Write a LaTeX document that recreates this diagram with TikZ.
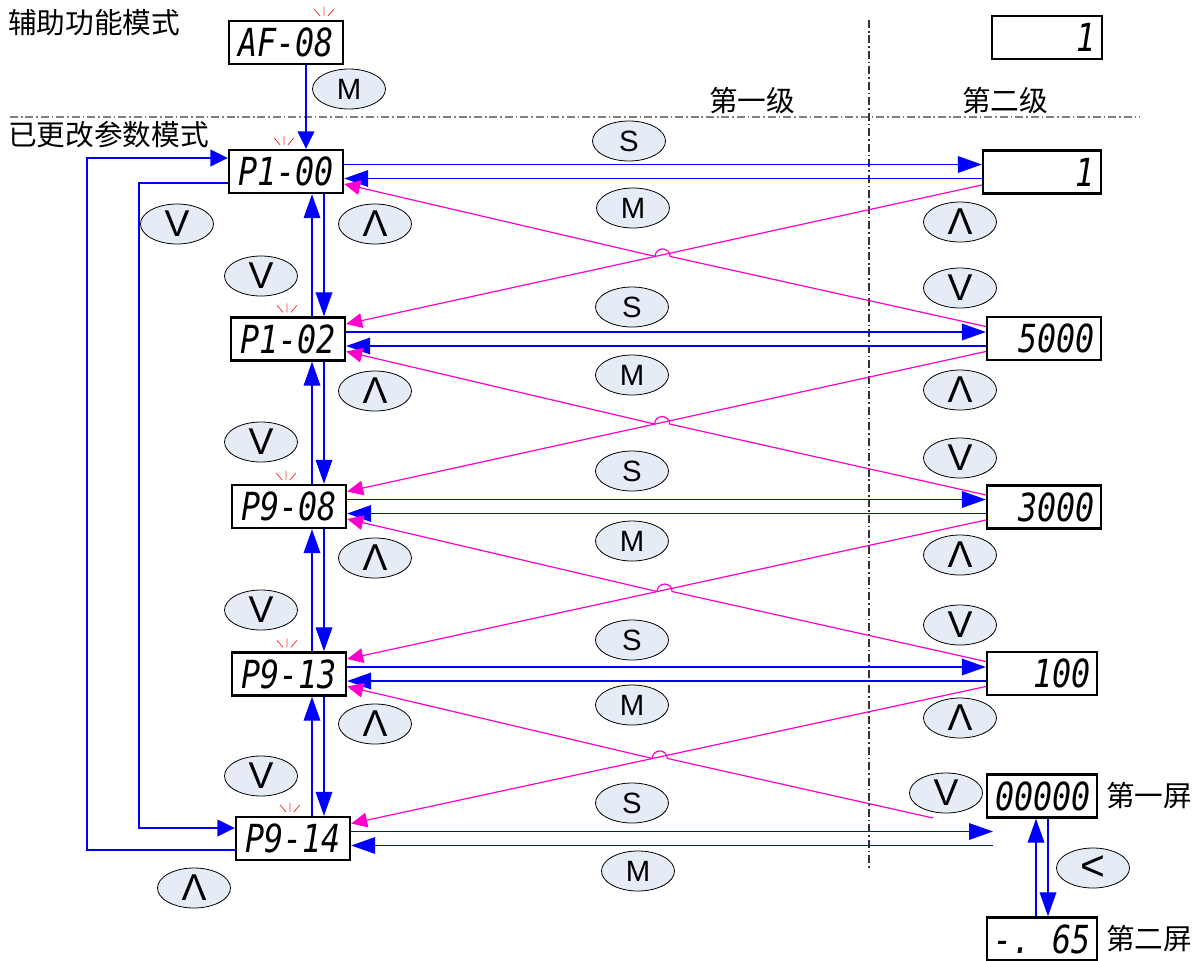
\documentclass[tikz,border=0pt]{standalone}
\usepackage{fontspec}
\setmainfont{Liberation Sans}
\newfontfamily\cjk{Noto Sans CJK SC}
\newfontfamily\seg{DejaVu Sans Mono}[FakeStretch=0.82]
\usetikzlibrary{shapes.geometric,arrows.meta,calc}
\definecolor{keyfill}{RGB}{230,236,246}
\definecolor{pinkline}{RGB}{255,0,204}
\definecolor{sparkred}{RGB}{255,50,50}
\tikzset{
 disp/.style={draw=black, line width=1.8pt, inner xsep=4.5pt, inner ysep=0pt, minimum height=32.25pt, font=\seg\itshape\fontsize{29}{29}\selectfont},
 ldisp/.style={disp, minimum width=85.5pt},
 rdisp/.style={disp, text width=#1, align=right},
 key/.style={ellipse, draw=black, line width=0.6pt, fill=keyfill, minimum width=54.75pt, minimum height=30pt, inner sep=0pt, font=\fontsize{22}{22}\selectfont},
 bigkey/.style={key, font=\fontsize{28}{28}\selectfont},
 cn/.style={inner sep=0pt, font=\cjk\fontsize{21.5}{24}\selectfont},
 bl/.style={draw=blue, line width=1pt},
 blarr/.style={bl, -{Triangle[length=18pt,width=12.5pt]}},
 blarrs/.style={bl, -{Triangle[length=13pt,width=12.5pt]}},
 pk/.style={draw=pinkline, line width=0.9pt, -{Triangle[length=12pt,width=11pt]}},
 spark/.style={draw=sparkred, line width=0.6pt},
 dd/.style={dash pattern=on 6pt off 2.2pt on 1.2pt off 2.2pt, line width=0.8pt},
}
\begin{document}
\begin{tikzpicture}[x=0.75pt,y=-0.75pt]
\useasboundingbox (0,0) rectangle (1204,961);

% separators
\draw[dd, gray] (10,117) -- (1140,117);
\draw[dd, black!80] (869,20) -- (869,870);

% labels
\node[cn, anchor=west] (t1) at (8,23) {辅助功能模式};
\node[cn, anchor=west] (t2) at (8,135) {已更改参数模式};
\node[cn] (t3) at (752,101) {第一级};
\node[cn] (t4) at (1005,101) {第二级};
\node[cn, anchor=west] (t5) at (1106,796) {第一屏};
\node[cn, anchor=west] (t6) at (1106,939) {第二屏};

% left displays
\node[ldisp] (AF) at (286,42.5) {AF-08};
\node[ldisp] (L1) at (286,171.5) {P1-00};
\node[ldisp] (L2) at (288,339) {P1-02};
\node[ldisp] (L3) at (289,506.5) {P9-08};
\node[ldisp] (L4) at (289,674) {P9-13};
\node[ldisp] (L5) at (293,838.5) {P9-14};

% right displays
\node[rdisp=73.5pt] (R0) at (1047,37.5) {1};
\node[rdisp=79.5pt] (R1) at (1042,172) {1};
\node[rdisp=76.5pt] (R2) at (1044,338.5) {5000};
\node[rdisp=76.5pt] (R3) at (1044,507) {3000};
\node[rdisp=73.5pt] (R4) at (1042,673.5) {100};
\node[rdisp=73.5pt] (R5) at (1042,796) {00000};
\node[disp, text width=73.5pt, align=left] (R6) at (1042,939) {-.\hfill 65};

% sparkles
\foreach \n/\x in {AF/324, L1/284, L2/287, L3/286, L4/287, L5/290} {
  \path (\x,0 |- \n.north) coordinate (s);
  \draw[spark] (s) ++(0,-4) -- ++(0,-9)
               (s) ++(-4,-4) -- ++(-6,-7)
               (s) ++(4,-4) -- ++(6,-7);
}

% keys
\node[key] (kM0) at (349,89) {M};
\node[key] (kS1) at (629,141) {S};
\node[key] (kM1) at (633,208) {M};
\node[key] (kS2) at (632,307) {S};
\node[key] (kM2) at (632,375) {M};
\node[key] (kS3) at (632,471) {S};
\node[key] (kM3) at (632,541) {M};
\node[key] (kS4) at (632,640) {S};
\node[key] (kM4) at (632,705) {M};
\node[key] (kS5) at (632,803) {S};
\node[key] (kM5) at (638,871) {M};
\node[bigkey] (kD0) at (177,224) {V};
\node[bigkey] (kU1) at (375,224) {Λ};
\node[bigkey] (kD1) at (261,276) {V};
\node[bigkey] (kU2) at (375,391) {Λ};
\node[bigkey] (kD2) at (261,442) {V};
\node[bigkey] (kU3) at (375,558) {Λ};
\node[bigkey] (kD3) at (261,610) {V};
\node[bigkey] (kU4) at (375,724) {Λ};
\node[bigkey] (kD4) at (261,776) {V};
\node[bigkey] (kU5) at (194,888) {Λ};
\node[bigkey] (kRU1) at (960,222) {Λ};
\node[bigkey] (kRD1) at (960,288) {V};
\node[bigkey] (kRU2) at (960,390) {Λ};
\node[bigkey] (kRD2) at (960,458) {V};
\node[bigkey] (kRU3) at (960,555) {Λ};
\node[bigkey] (kRD3) at (960,625) {V};
\node[bigkey] (kRU4) at (960,718) {Λ};
\node[bigkey] (kRD4) at (946,793) {V};
\node[key, font=\fontsize{32}{32}\selectfont] (kL) at (1093,868) {<};

% AF-08 -> P1-00
\draw[blarrs] (306,0 |- AF.south) -- (306,0 |- L1.north);

% vertical pairs in left column
\foreach \i/\j in {1/2,2/3,3/4,4/5} {
  \draw[blarr] (324,0 |- L\i.south) -- (324,0 |- L\j.north);
  \draw[blarr] (312,0 |- L\j.north) -- (312,0 |- L\i.south);
}

% horizontal pairs
\foreach \i in {1,2,3,4,5} {
  \path ($(L\i.east)+(0,-7)$) coordinate (u\i) ($(L\i.east)+(0,7)$) coordinate (d\i);
}
\foreach \i in {1,2,3,4} {
  \draw[blarr] (u\i) -- (u\i -| R\i.west);
  \draw[blarr] (d\i -| R\i.west) -- (d\i);
}
\coordinate (e5u) at (993,0 |- u5);
\coordinate (e5d) at (993,0 |- d5);
\draw[blarr] (u5) -- (e5u);
\draw[blarr] (e5d) -- (d5);

% left loops
\path ($(L5.west)+(0,11.5)$) coordinate (o1) ($(L1.west)+(0,-13.5)$) coordinate (o2);
\draw[blarrs] (o1) -- (87,0 |- o1) -- (87,0 |- o2) -- (o2);
\path ($(L1.west)+(0,11.5)$) coordinate (i1) ($(L5.west)+(0,-10.5)$) coordinate (i2);
\draw[blarrs] (i1) -- (139,0 |- i1) -- (139,0 |- i2) -- (i2);

% screen switching
\draw[blarr] (1036,0 |- R6.north) -- (1036,0 |- R5.south);
\draw[blarr] (1048,0 |- R5.south) -- (1048,0 |- R6.north);

% magenta crossings
\foreach \i in {1,2,3,4} {
  \path ($(R\i.west)+(0,13)$) coordinate (ra\i) ($(R\i.west)+(0,-12)$) coordinate (rb\i);
}
\foreach \i in {1,2,3,4,5} {
  \path ($(L\i.east)+(0,12.5)$) coordinate (la\i) ($(L\i.east)+(0,-15)$) coordinate (lb\i);
}
\coordinate (rb5) at (933,818);
\foreach \i/\j/\xx/\yy in {1/2/662.8/254.8, 2/3/662.3/422.4, 3/4/664.8/589.9, 4/5/660.0/756.8} {
  \draw[pk] (ra\i) -- (lb\j);
  \coordinate (X) at (\xx,\yy);
  \coordinate (hp) at ($(X)!5.6pt!(rb\j)$);
  \draw[pk] (rb\j) -- (hp) arc[start angle=0, end angle=-180, radius=7.5] -- (la\i);
}
\end{tikzpicture}
\end{document}
